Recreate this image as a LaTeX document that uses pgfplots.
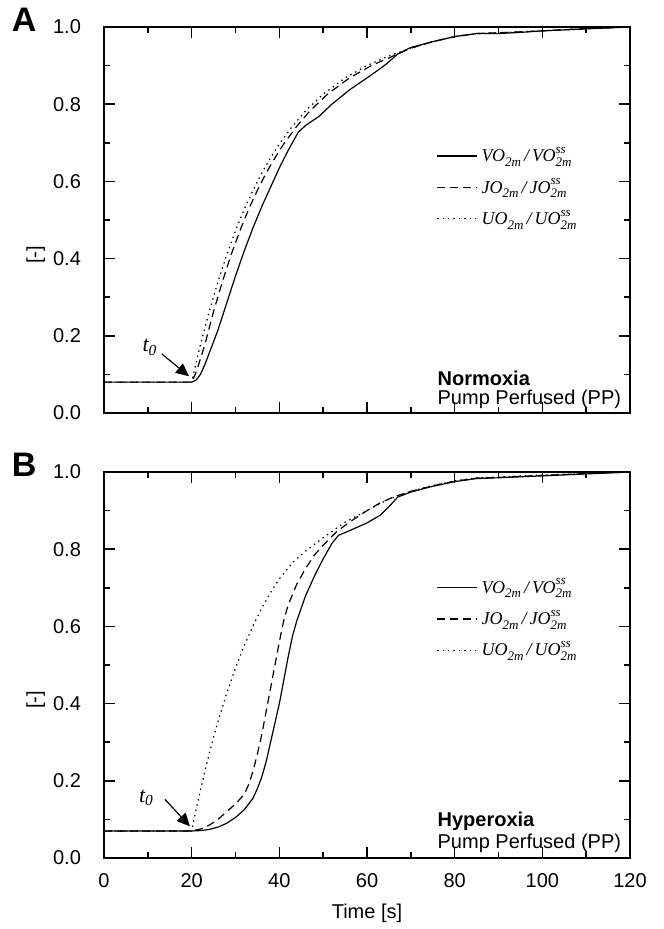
\documentclass[border=0pt]{standalone}
\usepackage{fontspec}
\setmainfont{Liberation Sans}
\newfontfamily\tms{Liberation Serif}
\usepackage{pgfplots}
\usepackage{pgfplotstable}
\pgfplotsset{compat=1.18}
\usetikzlibrary{arrows.meta}

% ratio labels in the legend: sub- and superscript stacked
\newcommand\lo[1]{\raisebox{-0.55ex}{\fontsize{6.5}{7}\selectfont #1}}
\newcommand\hi[1]{\raisebox{1.0ex}{\fontsize{6.5}{7}\selectfont #1}}
\newcommand\rat[1]{{\tms\itshape #1O\lo{2m}\,/\,#1O\rlap{\hi{ss}}\lo{2m}}}

% panel A (normoxia)
\pgfplotstableread{
t v
0 0.08
20 0.08
21 0.085
22 0.10
23 0.125
24 0.155
25 0.185
26 0.215
28 0.285
30 0.355
32 0.42
34 0.48
36 0.535
38 0.585
40 0.635
42 0.68
44.3 0.727
46 0.745
49 0.768
52 0.80
56 0.837
60 0.868
63 0.892
64.5 0.905
67 0.93
70 0.947
75 0.962
80 0.975
85 0.983
90 0.983
95 0.986
100 0.99
110 0.995
120 1.0
}\AV
\pgfplotstableread{
t v
0 0.08
20 0.08
21 0.105
22 0.14
23 0.177
25 0.263
27 0.34
29 0.41
31 0.472
33 0.528
35 0.577
37 0.622
39 0.661
41 0.697
44 0.743
47 0.783
51 0.826
56 0.868
61 0.90
66 0.925
70 0.945
75 0.962
80 0.975
85 0.983
90 0.985
100 0.99
110 0.996
120 1.0
}\AJ
\pgfplotstableread{
t v
0 0.08
20 0.08
21 0.13
22 0.177
24 0.263
26 0.34
28 0.41
30 0.472
32 0.528
34 0.577
36 0.622
38 0.661
40 0.697
43 0.743
46 0.783
50 0.826
55 0.868
60 0.90
65 0.925
70 0.945
75 0.962
80 0.975
85 0.983
90 0.985
100 0.99
110 0.996
120 1.0
}\AU

% panel B (hyperoxia)
\pgfplotstableread{
t v
0 0.07
20 0.07
22 0.071
24 0.074
26 0.08
28 0.09
30 0.105
32 0.125
34 0.155
35 0.18
36 0.21
37 0.25
38 0.30
39 0.35
40 0.40
41 0.46
42 0.52
43 0.575
44 0.615
46 0.68
48 0.73
50 0.775
52 0.815
53.5 0.836
56 0.848
60 0.868
63 0.888
65 0.91
67 0.935
70 0.948
75 0.963
80 0.975
85 0.983
90 0.985
100 0.99
110 0.995
120 1.0
}\BV
\pgfplotstableread{
t v
0 0.07
20 0.07
22 0.075
24 0.085
26 0.10
28 0.12
30 0.14
32 0.165
33 0.19
34 0.225
35 0.27
36 0.32
37 0.38
38 0.44
39 0.50
40 0.56
41 0.615
42 0.655
44 0.71
46 0.75
48 0.785
50 0.81
53 0.845
56 0.87
60 0.90
63 0.92
66 0.935
70 0.95
75 0.964
80 0.976
85 0.984
90 0.986
100 0.991
110 0.996
120 1.0
}\BJ
\pgfplotstableread{
t v
0 0.07
20 0.07
21 0.125
22 0.176
23 0.224
24 0.27
25 0.313
26 0.353
28 0.427
30 0.492
32 0.55
34 0.602
36 0.647
38 0.688
40 0.723
43 0.765
46 0.795
50 0.83
55 0.87
60 0.90
65 0.93
70 0.95
75 0.965
80 0.977
85 0.985
90 0.987
100 0.992
110 0.996
120 1.0
}\BU

\pgfplotsset{
  panel/.style={
    width=263pt, height=193pt, scale only axis,
    xmin=0, xmax=120, ymin=0, ymax=1,
    xtick={0,20,40,60,80,100,120}, minor x tick num=1,
    ytick={0,0.2,0.4,0.6,0.8,1}, minor y tick num=1,
    tick align=inside,
    major tick length=5.5pt, minor tick length=3pt,
    axis line style={line width=1pt},
    every tick/.style={line width=0.8pt, black},
    font=\fontsize{10}{12}\selectfont,
    tick label style={font=\fontsize{10}{12}\selectfont},
    /pgf/number format/assume math mode=true,
    yticklabel style={/pgf/number format/.cd, fixed, fixed zerofill, precision=1, /tikz/.cd, xshift=-8pt},
    xticklabel style={yshift=-4pt},
    ylabel={[-]},
    ylabel style={at={(axis description cs:-0.13,0.41)}, anchor=center},
    legend cell align=left,
    legend style={draw=none, fill=none, anchor=north west, row sep=3pt,
      font=\fontsize{9}{11}\selectfont},
    legend image code/.code={\draw[#1] (0pt,0pt) -- (20pt,0pt);},
    clip=false,
  },
  sV/.style={black, line width=0.6pt},
  sJ/.style={black, line width=0.6pt, dash pattern=on 4pt off 2.5pt},
  sU/.style={black, line width=0.6pt, dash pattern=on 0.7pt off 2pt},
}

\begin{document}
\begin{tikzpicture}
\useasboundingbox (-52pt,-35.5pt) rectangle (279.5pt,429pt);

\begin{axis}[panel, at={(0,222.5pt)}, anchor=south west,
  xticklabels={},
  legend style={at={(rel axis cs:0.62,0.71)}},
]
\addplot[sV] table[x=t, y=v] {\AV};
\addplot[sJ] table[x=t, y=v] {\AJ};
\addplot[sU] table[x=t, y=v] {\AU};
\legend{\rat{V}, \rat{J}, \rat{U}}
\node[anchor=west, font=\fontsize{10}{12}\selectfont\bfseries] at (axis cs:74.5,0.091) {Normoxia};
\node[anchor=west, font=\fontsize{10}{12}\selectfont] at (axis cs:74.5,0.036) {Pump Perfused (PP)};
\node[font={\tms\itshape\fontsize{11}{13}\selectfont}] at (axis cs:10.5,0.17) {t\textsubscript{0}};
\draw[-{Triangle[length=6.5pt,width=6pt]}, line width=0.6pt] (axis cs:13.2,0.153) -- (axis cs:19.4,0.095);
\node[font=\fontsize{17}{17}\selectfont\bfseries] at (rel axis cs:-0.152,1.018) {A};
\end{axis}

\begin{axis}[panel, at={(0,0)}, anchor=south west,
  xlabel={Time [s]},
  xlabel style={at={(axis description cs:0.5,-0.1425)}, anchor=center},
  legend style={at={(rel axis cs:0.62,0.745)}},
]
\addplot[sV] table[x=t, y=v] {\BV};
\addplot[sJ] table[x=t, y=v] {\BJ};
\addplot[sU] table[x=t, y=v] {\BU};
\legend{\rat{V}, \rat{J}, \rat{U}}
\node[anchor=west, font=\fontsize{10}{12}\selectfont\bfseries] at (axis cs:74.5,0.095) {Hyperoxia};
\node[anchor=west, font=\fontsize{10}{12}\selectfont] at (axis cs:74.5,0.038) {Pump Perfused (PP)};
\node[font={\tms\itshape\fontsize{11}{13}\selectfont}] at (axis cs:9.7,0.155) {t\textsubscript{0}};
\draw[-{Triangle[length=6.5pt,width=6pt]}, line width=0.6pt] (axis cs:13.9,0.152) -- (axis cs:19.6,0.082);
\node[font=\fontsize{17}{17}\selectfont\bfseries] at (rel axis cs:-0.152,1.018) {B};
\end{axis}
\end{tikzpicture}
\end{document}
